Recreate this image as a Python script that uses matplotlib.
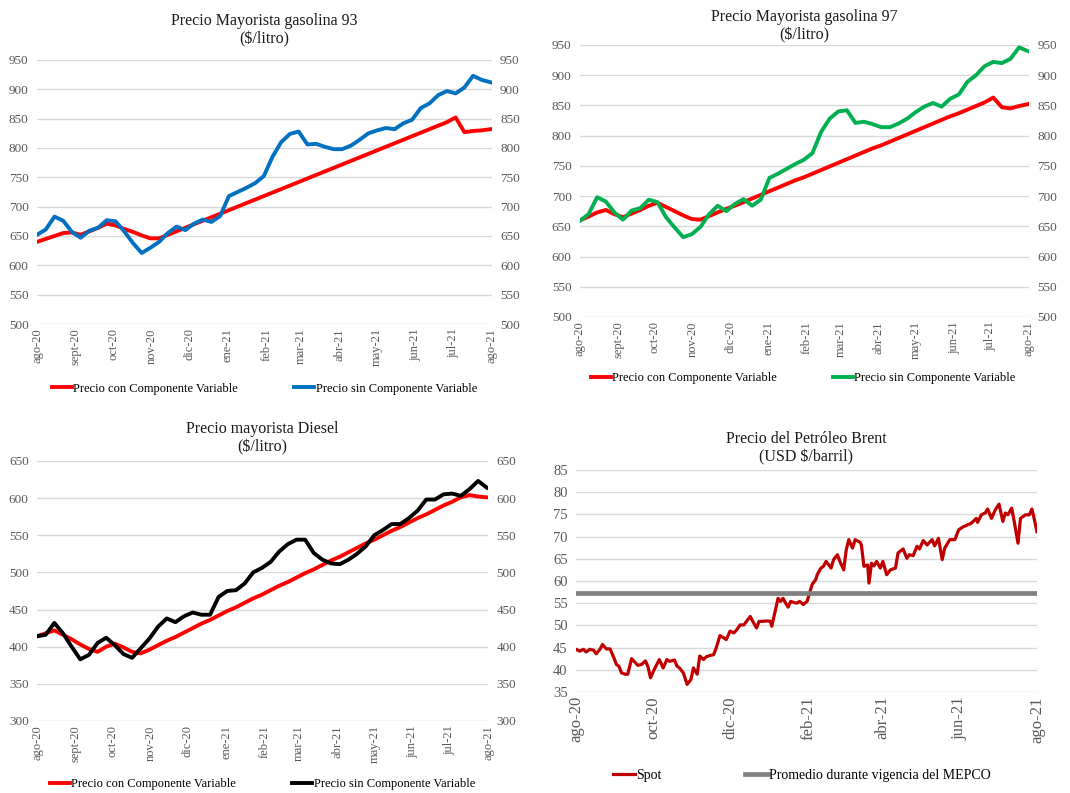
import numpy as np
import pandas as pd
import matplotlib
matplotlib.use('Agg')
import matplotlib.pyplot as plt

# Fuente tipo Times
plt.rcParams['font.family'] = ['Liberation Serif', 'DejaVu Serif']

# Fechas (serie semanal de ago-20 a ago-21)
semanas = pd.date_range('2020-08-01', periods=53, freq='7D')
meses = pd.date_range('2020-08-01', '2021-08-01', freq='MS')
meses_lbl = ['ago-20', 'sept-20', 'oct-20', 'nov-20', 'dic-20', 'ene-21', 'feb-21',
             'mar-21', 'abr-21', 'may-21', 'jun-21', 'jul-21', 'ago-21']

# Gasolina 93 ($/litro)
g93_con = [640, 645, 650, 655, 656, 652, 658, 664, 671, 668, 662, 657, 651, 646, 646, 652, 658, 664,
           670, 676, 682, 688, 694, 700, 706, 712, 718, 724, 730, 736, 742, 748, 754, 760, 766, 772,
           778, 784, 790, 796, 802, 808, 814, 820, 826, 832, 838, 844, 852, 827, 829, 830, 832]
g93_sin = [652, 661, 683, 676, 657, 647, 659, 664, 677, 675, 658, 638, 621, 630, 640, 655, 666, 660,
           671, 678, 674, 684, 718, 725, 732, 740, 752, 785, 810, 824, 828, 806, 807, 802, 798, 798,
           804, 814, 825, 830, 834, 832, 842, 848, 868, 876, 890, 897, 893, 903, 923, 916, 912]

# Gasolina 97 ($/litro)
g97_con = [660, 666, 673, 677, 670, 665, 671, 677, 684, 689, 682, 675, 668, 662, 661, 667, 673, 679,
           684, 690, 696, 702, 708, 714, 720, 726, 731, 737, 743, 749, 755, 761, 767, 773, 779, 784,
           790, 796, 802, 808, 814, 820, 826, 832, 837, 843, 849, 855, 863, 847, 845, 849, 852]
g97_sin = [659, 670, 698, 691, 673, 661, 676, 680, 694, 690, 665, 648, 632, 637, 649, 670, 684, 675,
           687, 695, 684, 694, 730, 737, 745, 753, 760, 771, 806, 828, 840, 842, 821, 823, 819, 814,
           814, 820, 828, 839, 848, 854, 848, 861, 868, 889, 900, 915, 922, 920, 927, 946, 940]

# Diesel ($/litro)
die_con = [414, 418, 422, 416, 410, 403, 397, 393, 400, 404, 399, 393, 391, 396, 402, 408, 413, 419,
           425, 431, 436, 442, 448, 453, 459, 465, 470, 476, 482, 487, 493, 499, 504, 510, 516, 521,
           527, 533, 539, 544, 550, 556, 561, 567, 573, 578, 584, 590, 595, 601, 604, 602, 601]
die_sin = [414, 416, 432, 418, 400, 383, 389, 405, 412, 402, 390, 385, 398, 411, 427, 438, 433, 441,
           446, 443, 443, 467, 475, 476, 485, 500, 506, 514, 528, 538, 544, 544, 526, 517, 512, 511,
           517, 525, 535, 550, 557, 565, 565, 573, 583, 598, 598, 605, 606, 603, 612, 623, 614]

# Brent (USD/barril): dias desde 01-ago-2020 y precio spot
brent_dias = [0, 3, 6, 8, 11, 14, 16, 19, 21, 24, 27, 30, 32, 34, 36, 39, 41, 44, 47, 49,
              52, 55, 57, 59, 62, 66, 69, 72, 74, 78, 80, 82, 85, 88, 91, 93, 96, 98, 101, 103,
              106, 109, 111, 114, 117, 119, 122, 125, 127, 130, 133, 135, 138, 140, 143, 145, 148, 151, 154, 155,
              158, 160, 162, 164, 166, 168, 170, 173, 175,
              177, 180, 183, 185, 187, 190, 191, 194, 196, 198, 200, 202, 204, 207, 209, 212, 214, 216, 219, 221,
              225, 226, 228, 231, 232, 234, 236, 238, 241, 243, 246, 249, 253, 255, 259, 262, 264, 267, 270, 272,
              275, 278, 282, 284, 287, 290, 292, 296, 300, 303, 306, 310, 313, 317, 318, 321, 324, 326, 329, 332,
              335, 338, 340, 342, 345, 347, 350, 352, 356, 359, 361, 363, 365]
brent_spot = [44.6, 44.2, 44.6, 44.0, 44.6, 44.4, 43.6, 44.6, 45.7, 44.7, 44.7, 42.7, 41.2, 40.8, 39.3, 39.0, 39.0, 42.5, 41.6, 41.0,
              41.2, 42.0, 40.7, 38.2, 40.1, 42.3, 40.4, 42.3, 41.9, 42.2, 40.8, 40.4, 39.3, 36.7, 37.8, 40.4, 39.0, 43.1, 42.3, 42.9,
              43.2, 43.4, 44.9, 47.7, 47.2, 46.8, 48.7, 48.3, 48.9, 50.1, 50.1, 50.9, 52.0, 50.9, 49.4, 50.9, 50.9, 51.0, 50.9, 49.8,
              53.5, 56.1, 55.4, 56.1, 55.0, 54.1, 55.4, 55.1, 55.0,
              55.4, 54.7, 55.4, 57.3, 59.2, 60.4, 61.4, 62.9, 63.3, 64.4, 63.7, 62.9, 64.8, 65.9, 64.4, 62.5, 67.0, 69.3, 67.4, 69.3,
              68.7, 68.1, 63.3, 63.6, 59.5, 64.0, 63.4, 64.4, 62.9, 64.4, 61.4, 62.5, 62.9, 66.3, 67.2, 65.1, 65.9, 65.7, 67.8, 67.2,
              69.1, 68.1, 69.3, 67.9, 69.6, 64.8, 67.4, 69.3, 69.3, 71.5, 72.1, 72.6, 73.0, 74.1, 73.2, 74.9, 75.3, 76.2, 74.1, 76.0,
              77.3, 73.4, 75.3, 74.9, 76.4, 73.4, 68.5, 74.1, 74.9, 74.9, 76.2, 73.8, 71.1]
mepco_prom = 57.3
brent_fechas = pd.Timestamp('2020-08-01') + pd.to_timedelta(brent_dias, unit='D')

ROJO = '#FF0000'
GRIS_TXT = '#595959'


def estilo(ax, titulo, ymin, ymax, paso, pad, derecha=True, fs_x=9, fs_y=9.5):
    ax.set_ylim(ymin, ymax)
    ax.set_yticks(np.arange(ymin, ymax + 1, paso))
    ax.grid(axis='y', color='#d9d9d9', lw=1)
    ax.set_axisbelow(True)
    for s in ax.spines.values():
        s.set_visible(False)
    ax.tick_params(axis='both', length=0, colors=GRIS_TXT)
    ax.tick_params(axis='y', labelsize=fs_y, pad=6)
    ax.tick_params(axis='x', labelsize=fs_x, rotation=90, pad=3)
    ax.set_title(titulo, fontsize=11.5, pad=pad, color='#1a1a1a')
    if derecha:
        ax2 = ax.twinx()
        ax2.set_ylim(ymin, ymax)
        ax2.set_yticks(np.arange(ymin, ymax + 1, paso))
        for s in ax2.spines.values():
            s.set_visible(False)
        ax2.tick_params(axis='y', length=0, labelsize=fs_y, colors=GRIS_TXT, pad=6)


fig = plt.figure(figsize=(10.7, 7.93), dpi=100)

# Panel 1: gasolina 93
ax1 = fig.add_axes([0.0346, 0.5914, 0.425, 0.333])
ax1.plot(semanas, g93_con, color=ROJO, lw=2.8, label='Precio con Componente Variable')
ax1.plot(semanas, g93_sin, color='#0070C0', lw=2.8, label='Precio sin Componente Variable')
ax1.set_xlim(meses[0], meses[-1])
ax1.set_xticks(meses)
ax1.set_xticklabels(meses_lbl)
estilo(ax1, 'Precio Mayorista gasolina 93\n($/litro)', 500, 950, 50, 12)
ax1.legend(loc='center', bbox_to_anchor=(0.5, -0.245), ncol=2, frameon=False, fontsize=9,
           handlelength=1.6, handletextpad=0.1, columnspacing=4.5)

# Panel 2: gasolina 97
ax2 = fig.add_axes([0.542, 0.6003, 0.4196, 0.343])
ax2.plot(semanas, g97_con, color=ROJO, lw=2.8, label='Precio con Componente Variable')
ax2.plot(semanas, g97_sin, color='#00B050', lw=2.8, label='Precio sin Componente Variable')
ax2.set_xlim(meses[0], meses[-1])
ax2.set_xticks(meses)
ax2.set_xticklabels(meses_lbl)
estilo(ax2, 'Precio Mayorista gasolina 97\n($/litro)', 500, 950, 50, 4)
ax2.legend(loc='center', bbox_to_anchor=(0.497, -0.224), ncol=2, frameon=False, fontsize=9,
           handlelength=1.6, handletextpad=0.1, columnspacing=4.5)

# Panel 3: diesel
ax3 = fig.add_axes([0.0346, 0.0908, 0.4215, 0.328])
ax3.plot(semanas, die_con, color=ROJO, lw=2.8, label='Precio con Componente Variable')
ax3.plot(semanas, die_sin, color='black', lw=2.8, label='Precio sin Componente Variable')
ax3.set_xlim(meses[0], meses[-1])
ax3.set_xticks(meses)
ax3.set_xticklabels(meses_lbl)
estilo(ax3, 'Precio mayorista Diesel\n($/litro)', 300, 650, 50, 7)
ax3.legend(loc='center', bbox_to_anchor=(0.5, -0.242), ncol=2, frameon=False, fontsize=9,
           handlelength=1.6, handletextpad=0.1, columnspacing=4.5)

# Panel 4: Brent
ax4 = fig.add_axes([0.5383, 0.1274, 0.4308, 0.28])
ax4.plot(brent_fechas, brent_spot, color='#C00000', lw=2.3, label='Spot')
ax4.axhline(mepco_prom, color='#808080', lw=3.4, label='Promedio durante vigencia del MEPCO')
ax4.set_xlim(meses[0], meses[-1])
ax4.set_xticks(meses[::2])
ax4.set_xticklabels(meses_lbl[::2])
estilo(ax4, 'Precio del Petróleo Brent\n(USD $/barril)', 35, 85, 5, 6, derecha=False, fs_x=12, fs_y=10.5)
ax4.legend(loc='center', bbox_to_anchor=(0.49, -0.374), ncol=2, frameon=False, fontsize=10,
           handlelength=1.6, handletextpad=0.1, columnspacing=6)

fig.savefig('out.png', dpi=100)
